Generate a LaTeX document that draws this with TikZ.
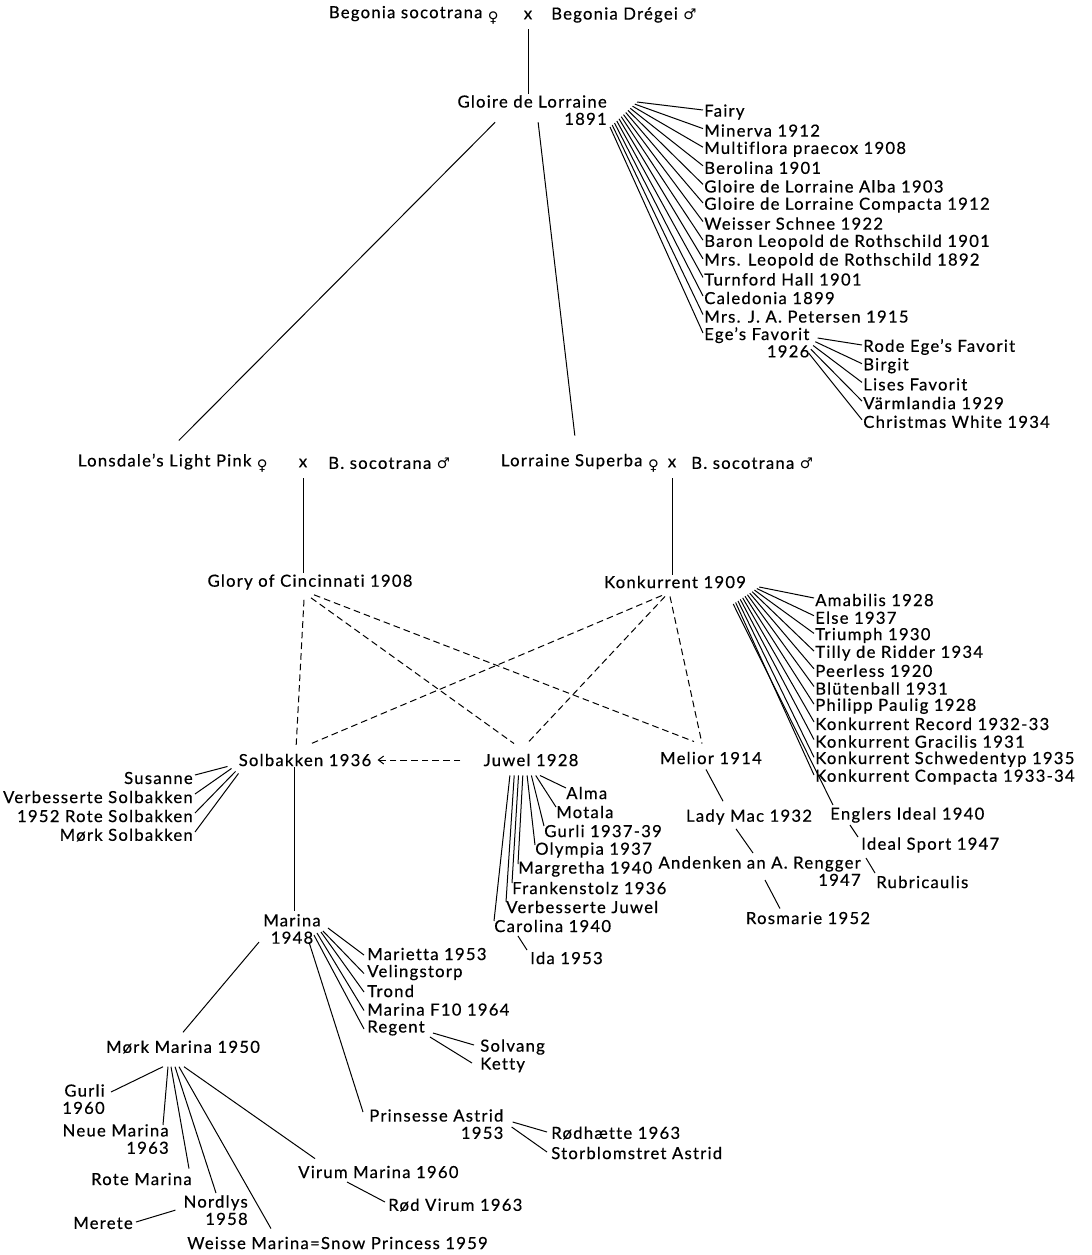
\documentclass[tikz,border=0pt]{standalone}
\usepackage{fontspec}
\setmainfont{Lato}[LetterSpace=7.5, Ligatures={TeX,NoCommon}, FakeBold=0.5]
\newfontfamily\symbfont{DejaVu Sans}
\usetikzlibrary{arrows.meta, positioning}
\newcommand{\fem}{\raisebox{-3pt}{\symbfont\fontsize{11}{11}\selectfont ♀}}
\newcommand{\mal}{{\symbfont\fontsize{11}{11}\selectfont ♂}}

\tikzset{
  lbl/.style={inner sep=0.75pt, font=\fontsize{12.5}{13}\selectfont},
  link/.style={line width=0.75pt},
  cross/.style={line width=0.75pt, dash pattern=on 5pt off 3pt},
}

\begin{document}
\begin{tikzpicture}[x=0.75pt,y=0.75pt,yscale=-1,xscale=1]
\useasboundingbox (0,0) rectangle (1091,1255);

% Text Node
\node (x1) [lbl] at (528,15) {x};
\node (bsoc) [lbl, anchor=east] at (500,15) {Begonia socotrana \fem};
\node (bdre) [lbl, anchor=west] at (550,15) {Begonia Drégei \mal};
\node (gdl) [lbl, anchor=north east, align=right] at (608,94) {Gloire de Lorraine\\1891};
\draw[link] (x1.south) ++(0,9) -- (x1.south |- gdl.north);

%Gloire de Lorraine sports
\foreach \t [count=\i from 0] in {Fairy, Minerva 1912, Multiflora praecox 1908, Berolina 1901, Gloire de Lorraine Alba 1903, Gloire de Lorraine Compacta 1912, Weisser Schnee 1922, Baron Leopold de Rothschild 1901, Mrs. Leopold de Rothschild 1892, Turnford Hall 1901, Caledonia 1899, Mrs. J. A. Petersen 1915}
{
  \node (g\i) [lbl, anchor=west] at (703,{112+18.6*\i}) {\t};
  \draw[link] ([shift={({29-2.25*\i},{8+2.1*\i})}]gdl.north east) -- ([shift={(0,-2)}]g\i.west);
}
\node (ege) [lbl, anchor=north west, align=right] at (703,326) {Ege's Favorit\\1926};
\draw[link] ([shift={(2,33)}]gdl.north east) -- ([shift={(0,7)}]ege.north west);
\foreach \t [count=\i from 0] in {Rode Ege's Favorit, Birgit, Lises Favorit, Värmlandia 1929, Christmas White 1934}
{
  \node (e\i) [lbl, anchor=west] at (862,{347+18.7*\i}) {\t};
  \draw[link] ([shift={({7-2.25*\i},{12+3.75*\i})}]ege.north east) -- ([shift={(0,-2)}]e\i.west);
}

% Text Node
\node (x2) [lbl] at (303,463) {x};
\node (lon) [lbl, anchor=east] at (269,463) {Lonsdale's Light Pink \fem};
\node (bs2) [lbl, anchor=west] at (327,463) {B. socotrana \mal};
\node (x3) [lbl] at (672,463) {x};
\node (sup) [lbl, anchor=east] at (660,463) {Lorraine Superba \fem};
\node (bs3) [lbl, anchor=west] at (690,463) {B. socotrana \mal};
\draw[link] ([shift={(-37,-4)}]gdl.south) -- ([shift={(6,-12)}]lon.north);
\draw[link] ([shift={(6,-4)}]gdl.south) -- ([shift={(-5,-17)}]sup.north);

\node (glo) [lbl] at (310,582) {Glory of Cincinnati 1908};
\node (kon) [lbl] at (675,582) {Konkurrent 1909};
\draw[link] (x2.south) ++(0,10) -- (x2.south |- glo.north);
\draw[link] (x3.south) ++(0,10) -- (x3.south |- kon.north);

%Konkurrent sports
\foreach \t [count=\i from 0] in {Amabilis 1928, Else 1937, Triumph 1930, Tilly de Ridder 1934, Peerless 1920, Blütenball 1931, Philipp Paulig 1928, Konkurrent Record 1932-33, Konkurrent Gracilis 1931, Konkurrent Schwedentyp 1935, Konkurrent Compacta 1933-34}
{
  \node (k\i) [lbl, anchor=west] at (814,{600+17.7*\i}) {\t};
  \draw[link] ([shift={({12-2.36*\i},{5+1.55*\i})}]kon.east) -- ([shift={(0,-2)}]k\i.west);
}
\node (eng) [lbl, anchor=west] at (829,815) {Englers Ideal 1940};
\node (isp) [lbl, anchor=west] at (860,845) {Ideal Sport 1947};
\node (rub) [lbl, anchor=west] at (875,882) {Rubricaulis};
\draw[link] ([shift={(-14,22)}]kon.east) -- ([shift={(4,-10)}]eng.west);
\draw[link] ([shift={(21,10)}]eng.west) -- ([shift={(-2,-8)}]isp.west);
\draw[link] ([shift={(6,13)}]isp.west) -- ([shift={(0,-9)}]rub.west);

% Text Node
\node (sol) [lbl] at (305,760) {Solbakken 1936};
\node (juw) [lbl] at (531,760) {Juwel 1928};
\node (mel) [lbl] at (711,758) {Melior 1914};

%Crossings
\draw[cross] ([shift={(-6,9)}]glo.south) -- ([shift={(-9,-4)}]sol.north);
\draw[cross] ([shift={(1,7)}]glo.south) -- ([shift={(-17,-9)}]juw.north);
\draw[cross] ([shift={(4,4)}]glo.south) -- ([shift={(-17,-9)}]mel.north);
\draw[cross] ([shift={(-13,6)}]kon.south) -- ([shift={(4,-8)}]sol.north);
\draw[cross] ([shift={(-10,7)}]kon.south) -- ([shift={(-4,-9)}]juw.north);
\draw[cross] ([shift={(-5,7)}]kon.south) -- ([shift={(-9,-7)}]mel.north);
\draw[cross, -{Straight Barb[length=4pt,width=6pt]}] ([shift={(-22,0)}]juw.west) -- ([shift={(5,0)}]sol.east);

%Solbakken sports
\foreach \t/\dx/\dy [count=\i from 0] in {Susanne/-10/-1, Verbesserte Solbakken/-6/1, 1952 Rote Solbakken/-2/4, Mørk Solbakken/1/6}
{
  \node (s\i) [lbl, anchor=east] at (194,{778+19*\i}) {\t};
  \draw[link] ([shift={(\dx,\dy)}]sol.south west) -- ([shift={(1,-3)}]s\i.east);
}

%Juwel sports
\foreach \t/\lx [count=\i from 0] in {Alma/565, Motala/555, Gurli 1937-39/543, Olympia 1937/534, Margretha 1940/517, Frankenstolz 1936/511, Verbesserte Juwel/505, Carolina 1940/493}
{
  \node (j\i) [lbl, anchor=west] at (\lx,{793+19*\i}) {\t};
  \draw[link] ([shift={({9-4.3*\i},8)}]juw.south) -- ([shift={(1,-5)}]j\i.west);
}
\node (ida) [lbl, anchor=west] at (529,958) {Ida 1953};
\draw[link] ([shift={(25,10)}]j7.west) -- ([shift={(-2,-8)}]ida.west);

%Melior line
\node (lady) [lbl] at (749,817) {Lady Mac 1932};
\node (ren) [lbl, anchor=north east, align=right] at (862,855) {Andenken an A. Rengger\\1947};
\node (ros) [lbl] at (808,918) {Rosmarie 1952};
\draw[link] ([shift={(-5,4)}]mel.south) -- ([shift={(-26,-7)}]lady.north);
\draw[link] ([shift={(-13,3)}]lady.south) -- ([shift={(-109,-2)}]ren.north east);
\draw[link] ([shift={(-97,25)}]ren.north east) -- ([shift={(-28,-2)}]ros.north);

%Marina
\node (mar) [lbl, align=center] at (292,929) {Marina\\1948};
\draw[link] ([shift={(-11,0)}]sol.south) -- ([shift={(2,-2)}]mar.north);
\foreach \t/\dx/\dy [count=\i from 0] in {Marietta 1953/6/-1, Velingstorp/1/2, Trond/-1/3, Marina F10 1964/-5/4, Regent/-8/6}
{
  \node (m\i) [lbl, anchor=west] at (366,{954+18.5*\i}) {\t};
  \draw[link] ([shift={(\dx,\dy)}]mar.east) -- ([shift={(-2,1)}]m\i.west);
}
\node (solv) [lbl, anchor=west] at (479,1047) {Solvang};
\node (ket) [lbl, anchor=west] at (479,1065) {Ketty};
\draw[link] ([shift={(7,5)}]m4.east) -- ([shift={(-5,-2)}]solv.west);
\draw[link] ([shift={(4,9)}]m4.east) -- ([shift={(-7,-2)}]ket.west);

\node (prin) [lbl, anchor=north west, align=right] at (368,1108) {Prinsesse Astrid\\1953};
\node (rod) [lbl, anchor=west] at (550,1133) {Rødhætte 1963};
\node (sto) [lbl, anchor=west] at (550,1153) {Storblomstret Astrid};
\draw[link] ([shift={(17,-3)}]mar.south) -- ([shift={(-5,4)}]prin.north west);
\draw[link] ([shift={(8,14)}]prin.north east) -- ([shift={(-3,-1)}]rod.west);
\draw[link] ([shift={(7,19)}]prin.north east) -- ([shift={(-3,-1)}]sto.west);

%Mork Marina
\node (mork) [lbl] at (183,1047) {Mørk Marina 1950};
\draw[link] ([shift={(-33,-3)}]mar.south) -- ([shift={(0,-7)}]mork.north);
\node (gur) [lbl, anchor=north east, align=right] at (106,1083) {Gurli\\1960};
\node (neu) [lbl, anchor=north east, align=right] at (170,1123) {Neue Marina\\1963};
\node (rote) [lbl, anchor=east] at (193,1179) {Rote Marina};
\node (nord) [lbl, anchor=north east, align=right] at (249,1194) {Nordlys\\1958};
\node (mer) [lbl, anchor=east] at (134,1223) {Merete};
\node (wei) [lbl, anchor=west] at (186,1243) {Weisse Marina=Snow Princess 1959};
\node (vir) [lbl, anchor=west] at (297,1172) {Virum Marina 1960};
\node (rvir) [lbl, anchor=west] at (387,1205) {Rød Virum 1963};
\draw[link] ([shift={(-20,12)}]mork.south) -- ([shift={(5,9)}]gur.north east);
\draw[link] ([shift={(-15,12)}]mork.south) -- ([shift={(-7,2)}]neu.north east);
\draw[link] ([shift={(-12,12)}]mork.south) -- ([shift={(-4,-3)}]rote.north east);
\draw[link] ([shift={(-8,12)}]mork.south) -- ([shift={(-33,-1)}]nord.north east);
\draw[link] ([shift={(-4,12)}]mork.south) -- ([shift={(85,-7)}]wei.north west);
\draw[link] ([shift={(1,12)}]mork.south) -- ([shift={(18,-6)}]vir.north west);
\draw[link] ([shift={(2,-1)}]mer.east) -- ([shift={(-7,0)}]nord.west);
\draw[link] ([shift={(50,10)}]vir.west) -- ([shift={(-2,-3)}]rvir.west);

\end{tikzpicture}
\end{document}
